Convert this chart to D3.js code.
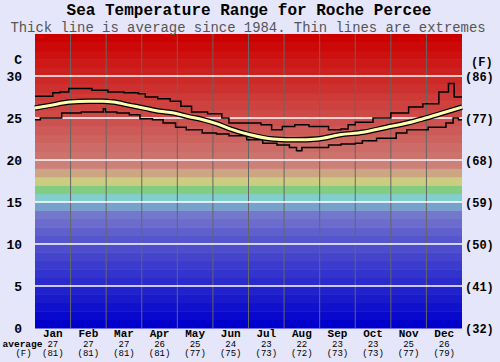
<!DOCTYPE html>
<html>
<head>
<meta charset="utf-8">
<script src="https://cdn.jsdelivr.net/npm/d3@7/dist/d3.min.js"></script>
<style>
  body { margin: 0; background: #e6e6fa; }
  text { font-family: "Liberation Mono", "Courier New", monospace; }
</style>
</head>
<body>
<svg id="chart"></svg>
<script>
// month position (0..12) and temperature in C
const months = ["Jan","Feb","Mar","Apr","May","Jun","Jul","Aug","Sep","Oct","Nov","Dec"];
const avgC = [27,27,27,26,25,24,23,22,23,23,25,26];
const avgF = [81,81,81,81,77,75,73,72,73,73,77,79];
const cTicks = [0,5,10,15,20,25,30];
const fLabels = ["(32)","(41)","(50)","(59)","(68)","(77)","(86)"];

const avgLine = [[0,26.2],[0.42,26.5],[0.98,26.9],[1.5,27.0],[1.9,27.0],[2.2,26.9],[2.67,26.5],
  [3.04,26.2],[3.5,25.8],[3.9,25.6],[4.27,25.2],[4.72,24.8],[5.12,24.3],[5.48,23.7],[6.04,23.0],
  [6.69,22.5],[7.36,22.4],[7.93,22.5],[8.57,23.0],[9.22,23.3],[9.89,23.9],[10.46,24.4],
  [10.9,24.9],[11.38,25.5],[12,26.3]];

const maxLine = [[0,27.6],[0.5,28.0],[0.7,28.1],[0.95,28.5],[1.6,28.3],[2.05,28.1],[2.5,28.0],
  [2.9,27.9],[3.1,27.5],[3.45,27.3],[3.8,27.0],[4.1,26.4],[4.4,25.7],[4.85,25.5],[5.25,25.0],
  [5.45,24.4],[6.35,24.2],[6.65,23.6],[6.95,24.0],[7.3,24.2],[7.7,24.0],[8.25,23.6],[8.6,23.7],
  [8.8,24.2],[9.0,24.5],[9.5,25.0],[10.0,25.6],[10.5,26.3],[10.9,26.7],[11.35,28.1],
  [11.62,29.1],[11.78,27.5],[12,27.5]];

const minLine = [[0,24.8],[0.15,25.0],[0.75,25.6],[1.3,25.7],[1.92,26.1],[1.98,25.7],[2.3,25.6],
  [2.65,25.4],[2.95,24.9],[3.3,24.8],[3.6,24.4],[3.95,23.9],[4.25,23.6],[4.7,23.2],[5.1,23.1],
  [5.45,22.9],[5.95,22.4],[6.4,22.0],[6.8,21.8],[7.15,21.5],[7.35,21.1],[7.5,21.5],[8.25,21.8],
  [8.6,21.9],[9.0,22.0],[9.2,22.3],[9.6,22.6],[10.15,23.2],[10.45,23.6],[11.05,23.9],
  [11.55,24.4],[11.75,25.0],[11.9,24.8],[12,24.8]];

// background colour stops per 1C band
const bandStops = [0,10,11,12,13,14,15,16,17,18,19,20,34];
const bandColors = ["rgb(0,0,205)","rgb(85,85,205)","rgb(95,95,205)","rgb(108,108,205)",
  "rgb(116,120,205)","rgb(120,160,205)","rgb(130,205,205)","rgb(130,205,130)","rgb(205,205,130)",
  "rgb(205,165,130)","rgb(205,128,120)","rgb(205,115,110)","rgb(205,0,0)"];

const width = 500, height = 362;
const plotLeft = 35, plotRight = 462, plotTop = 34, plotBottom = 328;

const svg = d3.select("#chart").attr("width", width).attr("height", height);

const x = d3.scaleLinear().domain([0,12]).range([plotLeft,plotRight]);
const y = d3.scaleLinear().domain([0,35]).range([plotBottom,plotTop]);
const bandColor = d3.scaleLinear().domain(bandStops).range(bandColors);

// colour bands
svg.append("g").selectAll("rect")
  .data(d3.range(0,35))
  .enter().append("rect")
    .attr("x", x(0))
    .attr("width", x(12) - x(0))
    .attr("y", d => y(d+1))
    .attr("height", d => y(d) - y(d+1) + 0.5)
    .attr("fill", d => bandColor(d));

// month lines
svg.append("g").selectAll("line")
  .data(d3.range(1,12))
  .enter().append("line")
    .attr("x1", d => x(d)).attr("x2", d => x(d))
    .attr("y1", y(35)).attr("y2", y(0))
    .attr("stroke", "#666").attr("stroke-width", 1);

// white temperature lines
svg.append("g").selectAll("line")
  .data(cTicks.filter(d => d > 0))
  .enter().append("line")
    .attr("x1", x(0)).attr("x2", x(12))
    .attr("y1", d => y(d)).attr("y2", d => y(d))
    .attr("stroke", "#fff").attr("stroke-width", 1.5);

// extremes
const stepLine = d3.line().x(d => x(d[0])).y(d => y(d[1])).curve(d3.curveStepAfter);
[maxLine, minLine].forEach(pts => {
  svg.append("path").attr("d", stepLine(pts))
    .attr("fill", "none").attr("stroke", "#000").attr("stroke-width", 1.5);
});

// average
const smooth = d3.line().x(d => x(d[0])).y(d => y(d[1])).curve(d3.curveMonotoneX);
svg.append("path").attr("d", smooth(avgLine))
  .attr("fill", "none").attr("stroke", "#000").attr("stroke-width", 5.5);
svg.append("path").attr("d", smooth(avgLine))
  .attr("fill", "none").attr("stroke", "#ffffb0").attr("stroke-width", 3);

// titles
svg.append("text").attr("x", 249).attr("y", 14.5).attr("text-anchor", "middle")
  .style("font-size", "16px").style("font-weight", "bold")
  .text("Sea Temperature Range for Roche Percee");
svg.append("text").attr("x", 248).attr("y", 31.5).attr("text-anchor", "middle")
  .style("font-size", "13.9px").attr("fill", "#555")
  .text("Thick line is average since 1984. Thin lines are extremes");

// C axis
svg.append("text").attr("x", 22).attr("y", 64).attr("text-anchor", "end")
  .style("font-size", "13px").style("font-weight", "bold").text("C");
svg.append("g").selectAll("text")
  .data(cTicks)
  .enter().append("text")
    .attr("x", 22).attr("y", d => y(d) + 4.5).attr("text-anchor", "end")
    .style("font-size", "13px").style("font-weight", "bold")
    .text(d => d);

// F axis
svg.append("text").attr("x", 471).attr("y", 66)
  .style("font-size", "12px").style("font-weight", "bold").text("(F)");
svg.append("g").selectAll("text")
  .data(cTicks)
  .enter().append("text")
    .attr("x", 465).attr("y", (d,i) => y(d) + 4.5)
    .style("font-size", "12px").style("font-weight", "bold")
    .text((d,i) => fLabels[i]);

// month labels and averages
const mid = i => x(i + 0.5);
const bottomRows = svg.append("g");
bottomRows.selectAll(".m").data(months).enter().append("text")
  .attr("x", (d,i) => mid(i)).attr("y", 336.5).attr("text-anchor", "middle")
  .style("font-size", "11px").style("font-weight", "bold").text(d => d);
bottomRows.selectAll(".c").data(avgC).enter().append("text")
  .attr("x", (d,i) => mid(i)).attr("y", 346.5).attr("text-anchor", "middle")
  .style("font-size", "9px").text(d => d);
bottomRows.selectAll(".f").data(avgF).enter().append("text")
  .attr("x", (d,i) => mid(i)).attr("y", 356).attr("text-anchor", "middle")
  .style("font-size", "9px").text(d => "(" + d + ")");
svg.append("text").attr("x", 22.5).attr("y", 346.5).attr("text-anchor", "middle")
  .style("font-size", "9.5px").style("font-weight", "bold").text("average");
svg.append("text").attr("x", 23.5).attr("y", 356).attr("text-anchor", "middle")
  .style("font-size", "9px").text("(F)");
</script>
</body>
</html>
